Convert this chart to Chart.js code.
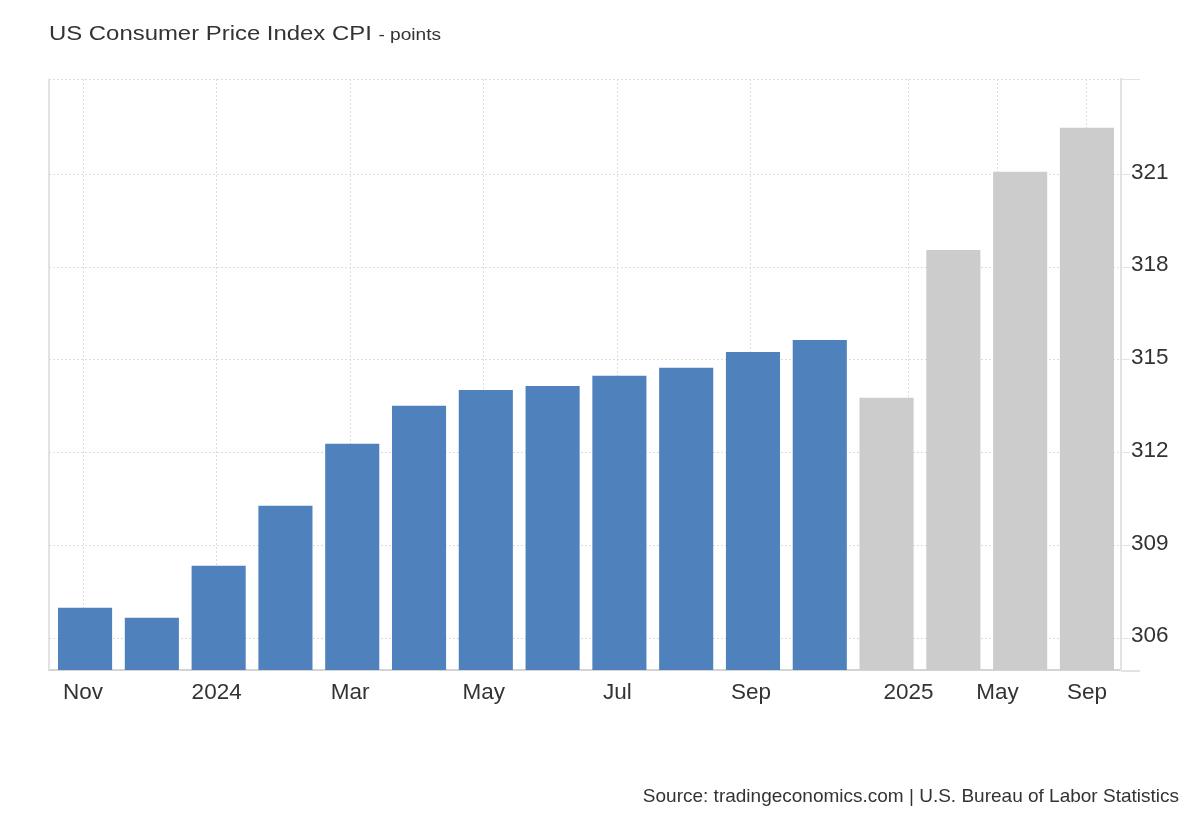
<!DOCTYPE html>
<html><head><meta charset="utf-8">
<script src="https://cdn.jsdelivr.net/npm/chart.js@4.4.1/dist/chart.umd.min.js"></script>
<style>
html,body{margin:0;padding:0;background:#fff;width:1200px;height:820px;overflow:hidden;font-family:"Liberation Sans",Arial,sans-serif;}
#wrap{position:absolute;left:0;top:0;width:1200px;height:820px}
#title{position:absolute;left:49px;top:21px;font-size:20px;color:#333;white-space:nowrap;line-height:24px;transform:scaleX(1.195);transform-origin:0 0}
#title span{font-size:16px}
#source{position:absolute;right:21px;top:785px;font-size:19px;color:#333;white-space:nowrap;line-height:22px}
</style></head><body>
<div id="wrap"><canvas id="c" width="1200" height="820"></canvas></div>
<div id="title">US Consumer Price Index CPI <span>- points</span></div>
<div id="source">Source: tradingeconomics.com | U.S. Bureau of Labor Statistics</div>
<script>
// Categories (one per bar)
const categories = ['Nov 2023','Dec 2023','Jan 2024','Feb 2024','Mar 2024','Apr 2024','May 2024','Jun 2024','Jul 2024','Aug 2024','Sep 2024','Oct 2024','Q4 2024','Q1 2025','Q2 2025','Q3 2025'];
// Actual CPI values (points)
const actualValues = [306.98, 306.66, 308.34, 310.28, 312.29, 313.52, 314.03, 314.16, 314.49, 314.75, 315.26, 315.65, null, null, null, null];
// Forecast values (points)
const forecastValues = [null, null, null, null, null, null, null, null, null, null, null, null, 313.78, 318.56, 321.09, 322.51];
// X tick labels and their positions on the bar index axis
const xTickLabels = ['Nov','2024','Mar','May','Jul','Sep','2025','May','Sep'];
const xTickIndex = [-0.03, 1.97, 3.97, 5.97, 7.97, 9.97, 12.33, 13.66, 15];
// Y ticks
const yTickValues = [306, 309, 312, 315, 318, 321];
const yMin = 304.97, yMax = 324.09;

const GRID = '#dcdcdc';
const AXIS = '#e2e2e2';
const FONT = '"Liberation Sans", Arial, sans-serif';

const framePlugin = {
  id: 'frame',
  beforeDatasetsDraw(chart) {
    const {ctx, chartArea: a} = chart;
    ctx.save();
    ctx.strokeStyle = GRID; ctx.lineWidth = 1; ctx.setLineDash([2, 2]);
    ctx.beginPath(); ctx.moveTo(a.left, a.top + 0.5); ctx.lineTo(a.right, a.top + 0.5); ctx.stroke();
    ctx.setLineDash([]);
    ctx.strokeStyle = AXIS; ctx.lineWidth = 1;
    ctx.beginPath(); ctx.moveTo(a.right, a.top + 0.5); ctx.lineTo(a.right + 19, a.top + 0.5); ctx.stroke();
    ctx.lineWidth = 2;
    ctx.beginPath(); ctx.moveTo(a.left, a.top); ctx.lineTo(a.left, a.bottom); ctx.stroke();
    ctx.beginPath(); ctx.moveTo(a.right, a.bottom + 1); ctx.lineTo(a.right + 19, a.bottom + 1); ctx.stroke();
    ctx.restore();
  }
};

const idx = categories.map((_, i) => i);
new Chart(document.getElementById('c'), {
  type: 'bar',
  data: {
    datasets: [
      { label: 'Actual', data: idx.map(i => ({x: i, y: actualValues[i]})), backgroundColor: '#4f81bd' },
      { label: 'Forecast', data: idx.map(i => ({x: i, y: forecastValues[i]})), backgroundColor: '#cccccc' }
    ]
  },
  options: {
    responsive: false,
    animation: false,
    devicePixelRatio: 1,
    layout: { padding: { left: 49, top: 79, right: 0, bottom: 100 } },
    plugins: { legend: { display: false }, tooltip: { enabled: false } },
    datasets: { bar: { grouped: false, categoryPercentage: 0.81, barPercentage: 1 } },
    scales: {
      x: {
        type: 'linear',
        offset: false,
        min: -0.54, max: 15.51,
        afterBuildTicks: s => { s.ticks = xTickIndex.map(v => ({value: v})); },
        afterFit: s => { s.height = 50; },
        ticks: {
          autoSkip: false, maxRotation: 0, padding: 9,
          color: '#333', font: { family: FONT, size: 22.5 },
          callback: (v, i) => xTickLabels[i]
        },
        grid: { offset: false, color: GRID, lineWidth: 1, drawTicks: false },
        border: { color: '#d4d4d4', width: 2, dash: [2, 2] }
      },
      y: {
        position: 'right',
        min: yMin, max: yMax,
        afterBuildTicks: s => { s.ticks = yTickValues.map(v => ({value: v})); },
        afterFit: s => { s.width = 79; },
        ticks: {
          padding: 1, color: '#333', labelOffset: -2,
          font: { family: FONT, size: 22.5 }
        },
        grid: { color: GRID, lineWidth: 1, tickLength: 9, tickColor: AXIS, tickBorderDash: [] },
        border: { color: AXIS, width: 2, dash: [2, 2] }
      }
    }
  },
  plugins: [framePlugin]
});
</script>
</body></html>
